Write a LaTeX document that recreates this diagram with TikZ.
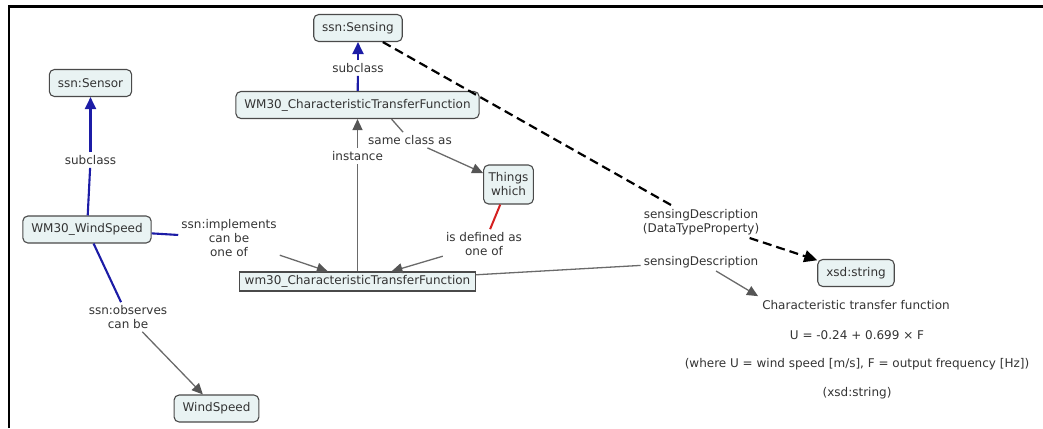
\documentclass[tikz,border=0pt]{standalone}
\usepackage{fontspec}
\setmainfont{DejaVu Sans}
\usetikzlibrary{arrows.meta}
\definecolor{boxfill}{HTML}{E9F3F3}
\definecolor{boxdraw}{HTML}{4A4A4A}
\definecolor{txt}{HTML}{333333}
\definecolor{linkblue}{HTML}{1C1CA6}
\definecolor{linkgray}{HTML}{6A6A6A}
\definecolor{tipgray}{HTML}{555555}
\definecolor{linkred}{HTML}{D42020}

\begin{document}
\begin{tikzpicture}[x=1pt,y=-1pt,
  font=\fontsize{12}{14}\selectfont, text=txt,
  concept/.style={draw=boxdraw, line width=1.1pt, fill=boxfill, rounded corners=5pt,
    inner xsep=8.5pt, minimum height=27pt, align=center},
  instbox/.style={draw=boxdraw, line width=1.1pt, fill=boxfill, inner xsep=5pt,
    inner ysep=3pt, minimum height=19pt},
  linklabel/.style={inner sep=3pt, align=center},
  plaintext/.style={inner sep=0pt},
  blueln/.style={draw=linkblue, line width=2.1pt},
  bluetip/.style={-{Triangle[length=12pt,width=11pt]}, blueln},
  grayln/.style={draw=linkgray, line width=1.3pt},
  graytip/.style={-{Triangle[length=11pt,width=10pt,color=tipgray,fill=tipgray]}, grayln},
  redln/.style={draw=linkred, line width=2pt},
  dashln/.style={draw=black, line width=2.2pt, dash pattern=on 9pt off 5pt},
  dashtip/.style={-{Triangle[length=13pt,width=12pt]}, dashln},
]
\useasboundingbox (0,0) rectangle (1043,428);

% frame
\draw[line width=2.5pt] (9,428) -- (9,6.5) -- (1043,6.5);

% concepts
\node[concept] (sensing) at (358,28) {ssn:Sensing};
\node[concept] (sensor)  at (90.5,83)  {ssn:Sensor};
\node[concept] (ctfc)    at (357.5,105) {WM30\_CharacteristicTransferFunction};
\node[concept, inner xsep=5pt, minimum height=39pt] (things) at (508.5,184.5) {Things\\which};
\node[concept] (wsp)     at (87,229.5) {WM30\_WindSpeed};
\node[instbox] (ctfi)    at (357.5,281.5) {wm30\_CharacteristicTransferFunction};
\node[concept] (xsd)     at (856,273) {xsd:string};
\node[concept] (wind)    at (216.5,408.5) {WindSpeed};

% linking phrases
\node[linklabel] (subA)   at (90.5,160) {subclass};
\node[linklabel] (subB)   at (358,68)   {subclass};
\node[linklabel] (same)   at (410,140)  {same class as};
\node[linklabel] (inst)   at (357.5,156) {instance};
\node[linklabel] (defd)   at (484,244)  {is defined as\\one of};
\node[linklabel] (impl)   at (229,238)  {ssn:implements\\can be\\one of};
\node[linklabel] (obs)    at (128,317)  {ssn:observes\\can be};
\node[linklabel] (sdprop) at (701,222)  {sensingDescription\\(DataTypeProperty)};
\node[linklabel] (sdval)  at (701,262)  {sensingDescription};

% literal value
\node[plaintext] (title) at (856,305) {Characteristic transfer function};
\node[plaintext] (eqn)   at (857,335) {U = -0.24 + 0.699 × F};
\node[plaintext] (where) at (857,364) {(where U = wind speed [m/s], F = output frequency [Hz])};
\node[plaintext] (dtype) at (857,393) {(xsd:string)};

% subclass links
\draw[blueln] (wsp) -- (subA);
\draw[bluetip] (subA) -- (sensor);
\draw[blueln] (ctfc) -- (subB);
\draw[bluetip] (subB) -- (sensing);

% same class as
\draw[grayln] ([xshift=34pt]ctfc.south) -- (same);
\draw[graytip] (same) -- (things);

% instance
\draw[grayln] (ctfi) -- (inst);
\draw[graytip] (inst) -- (ctfc);

% is defined as one of
\draw[redln] (things) -- (defd);
\draw[graytip] (defd) -- (ctfi);

% implements
\draw[blueln] (wsp) -- (impl);
\draw[graytip] (impl) -- (ctfi);

% observes
\draw[blueln] (wsp) -- (obs);
\draw[graytip] (obs) -- (wind);

% datatype property
\draw[dashln] (sensing) -- (sdprop);
\draw[dashtip] (sdprop) -- (xsd);

% value of the property
\draw[grayln] (ctfi) -- (sdval);
\draw[graytip] (sdval) -- ([xshift=-4pt,yshift=4pt]title.north west);
\end{tikzpicture}
\end{document}
